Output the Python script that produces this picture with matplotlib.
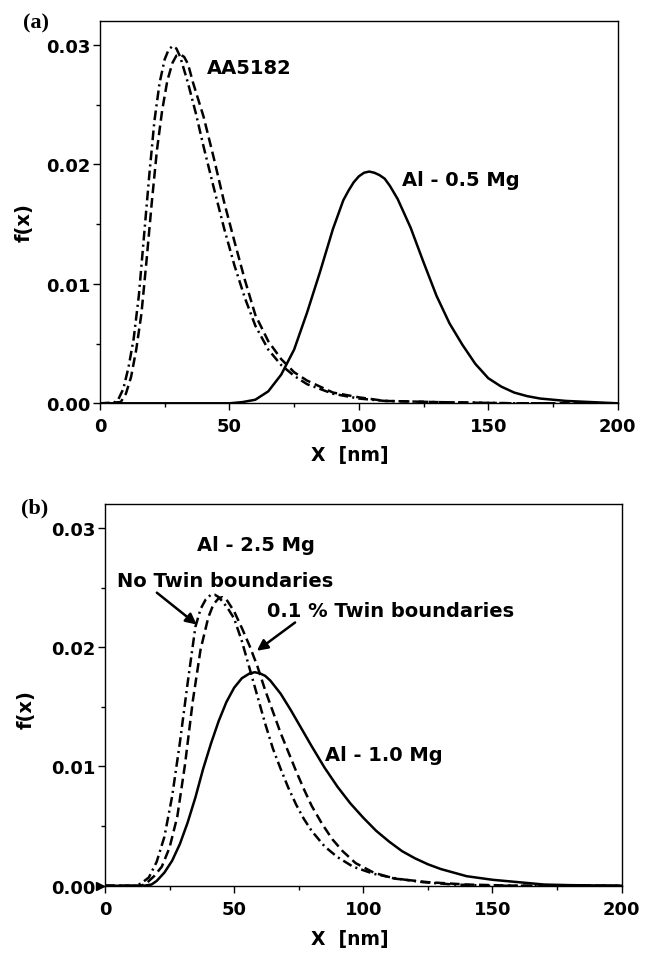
import matplotlib
matplotlib.use("Agg")
import matplotlib.pyplot as plt

plt.rcParams['font.family'] = ['DejaVu Sans']
plt.rcParams['font.weight'] = 'bold'
plt.rcParams['lines.scale_dashes'] = False

# ---- panel (a): size distributions, X in nm ----
al05_x = [0, 50, 55, 60, 65, 70, 75, 80, 85, 90, 94, 96, 98, 100, 102, 104, 106, 108, 110,
          112, 115, 120, 125, 130, 135, 140, 145, 150, 155, 160, 165, 170, 175, 180, 190, 200]
al05_y = [0, 0, 0.0001, 0.0003, 0.0010, 0.0024, 0.0045, 0.0076, 0.0110, 0.0146, 0.0170, 0.0178,
          0.0185, 0.0190, 0.0193, 0.0194, 0.0193, 0.0191, 0.0188, 0.0182, 0.0171, 0.0147, 0.0118,
          0.0090, 0.0067, 0.0049, 0.0033, 0.0021, 0.0014, 0.0009, 0.0006, 0.0004, 0.0003, 0.0002,
          0.0001, 0.0]

aa_dd_x = [0, 5, 7, 9, 11, 13, 15, 17, 19, 21, 23, 25, 26.5, 28, 29.5, 31, 34, 37, 40, 44, 48,
           52, 56, 60, 65, 70, 75, 80, 90, 100, 110, 130, 160, 200]
aa_dd_y = [0, 0, 0.0003, 0.0012, 0.0030, 0.0054, 0.0090, 0.0140, 0.0190, 0.0236, 0.0268, 0.0288,
           0.0296, 0.0299, 0.0297, 0.0290, 0.0268, 0.0243, 0.0215, 0.0180, 0.0146, 0.0115, 0.0088,
           0.0065, 0.0045, 0.0032, 0.0023, 0.0016, 0.0008, 0.0004, 0.0002, 0.0001, 0, 0]

aa_d_x = [0, 8, 10, 12, 14, 16, 18, 20, 22, 24, 26, 28, 29.5, 31, 32.5, 34, 36, 40, 44, 48, 52,
          56, 60, 65, 70, 75, 80, 90, 100, 110, 130, 160, 200]
aa_d_y = [0, 0.0001, 0.0008, 0.0022, 0.0045, 0.0075, 0.0120, 0.0168, 0.0212, 0.0245, 0.0270,
          0.0285, 0.0291, 0.0292, 0.0290, 0.0284, 0.0268, 0.0240, 0.0205, 0.0168, 0.0135, 0.0103,
          0.0074, 0.0052, 0.0037, 0.0026, 0.0019, 0.0009, 0.0005, 0.0002, 0.0001, 0, 0]

# ---- panel (b) ----
al10_x = [0, 15, 18, 20, 23, 26, 29, 32, 35, 38, 41, 44, 47, 50, 53, 56, 58, 60, 62, 64, 68, 72,
          76, 80, 85, 90, 95, 100, 105, 110, 115, 120, 125, 130, 135, 140, 150, 160, 170, 180, 200]
al10_y = [0, 0, 0.0001, 0.0004, 0.0011, 0.0021, 0.0035, 0.0053, 0.0074, 0.0098, 0.0119, 0.0138,
          0.0154, 0.0166, 0.0174, 0.0178, 0.0179, 0.0178, 0.0176, 0.0172, 0.0161, 0.0147, 0.0132,
          0.0117, 0.0099, 0.0083, 0.0069, 0.0057, 0.0046, 0.0037, 0.0029, 0.0023, 0.0018, 0.0014,
          0.0011, 0.0008, 0.0005, 0.0003, 0.0001, 0.00005, 0]

notwin_x = [0, 12, 14, 17, 20, 23, 26, 29, 32, 35, 37, 39, 41, 42.5, 44, 46, 48, 50, 53, 56, 59,
            62, 65, 68, 71, 74, 77, 80, 85, 90, 96, 104, 113, 123, 135, 150, 200]
notwin_y = [0, 0, 0.0002, 0.0007, 0.0020, 0.0041, 0.0075, 0.0120, 0.0170, 0.0217, 0.0232, 0.0240,
            0.0244, 0.0244, 0.0242, 0.0237, 0.0231, 0.0224, 0.0205, 0.0182, 0.0159, 0.0136, 0.0115,
            0.0098, 0.0082, 0.0068, 0.0056, 0.0046, 0.0033, 0.0024, 0.0016, 0.0010, 0.0006, 0.0003,
            0.0001, 0, 0]

twin_x = [0, 14, 16, 19, 22, 25, 28, 31, 34, 37, 40, 42, 44, 45.5, 47, 50, 53, 56, 59, 62, 65, 68,
          71, 74, 77, 80, 84, 88, 92, 97, 104, 112, 125, 140, 160, 200]
twin_y = [0, 0, 0.0002, 0.0008, 0.0016, 0.0032, 0.0058, 0.0102, 0.0155, 0.0198, 0.0225, 0.0236,
          0.0241, 0.0242, 0.0240, 0.0230, 0.0216, 0.0201, 0.0184, 0.0164, 0.0146, 0.0128, 0.0112,
          0.0096, 0.0081, 0.0067, 0.0052, 0.0039, 0.0029, 0.0019, 0.0011, 0.0006, 0.0003, 0.0001,
          0, 0]

xticks = [0, 50, 100, 150, 200]
yticks = [0.00, 0.01, 0.02, 0.03]
ytick_labels = ['0.00', '0.01', '0.02', '0.03']

lw = 1.8
dashed = (0, (7, 3.5))
dashdot = (0, (7, 3, 1.5, 3))

fig = plt.figure(figsize=(6.46, 9.54), dpi=100)
ax1 = fig.add_axes([0.1548, 0.5762, 0.8014, 0.4007])
ax2 = fig.add_axes([0.1625, 0.0705, 0.7998, 0.4001])


def style(ax):
    ax.set_xlim(0, 200)
    ax.set_ylim(0, 0.032)
    ax.set_xticks(xticks)
    ax.set_xticks([25, 75, 125, 175], minor=True)
    ax.set_yticks(yticks)
    ax.set_yticklabels(ytick_labels)
    ax.set_yticks([0.005, 0.015, 0.025], minor=True)
    ax.tick_params(which='both', direction='out', width=1.0, top=False, right=False)
    ax.tick_params(which='major', length=5)
    ax.tick_params(which='minor', length=3)
    ax.tick_params(axis='x', labelsize=13, pad=5)
    ax.tick_params(axis='y', labelsize=13, pad=2)
    for s in ax.spines.values():
        s.set_linewidth(1.0)
    ax.set_ylabel('f(x)', fontsize=14, fontweight='bold')
    ax.set_xlabel('X  [nm]', fontsize=13.5, fontweight='bold')


# panel (a)
ax1.plot(al05_x, al05_y, color='black', lw=lw)
ax1.plot(aa_dd_x, aa_dd_y, color='black', lw=lw, linestyle=dashdot)
ax1.plot(aa_d_x, aa_d_y, color='black', lw=lw, linestyle=dashed)
style(ax1)
ax1.yaxis.set_label_coords(-0.129, 0.476)
ax1.xaxis.set_label_coords(0.482, -0.108)
ax1.text(41.3, 0.0281, 'AA5182', fontsize=14, fontweight='bold', va='center', ha='left')
ax1.text(116.6, 0.0187, 'Al - 0.5 Mg', fontsize=14, fontweight='bold', va='center', ha='left')

# panel (b)
ax2.plot(al10_x, al10_y, color='black', lw=lw)
ax2.plot(notwin_x, notwin_y, color='black', lw=lw, linestyle=dashdot)
ax2.plot(twin_x, twin_y, color='black', lw=lw, linestyle=dashed)
ax2.plot([-2], [0], marker='>', color='black', markersize=6, clip_on=False)
style(ax2)
ax2.yaxis.set_label_coords(-0.135, 0.463)
ax2.xaxis.set_label_coords(0.473, -0.113)
ax2.text(35.5, 0.0286, 'Al - 2.5 Mg', fontsize=14, fontweight='bold', va='center', ha='left')
ax2.text(85.2, 0.0110, 'Al - 1.0 Mg', fontsize=14, fontweight='bold', va='center', ha='left')
ax2.annotate('No Twin boundaries', xy=(35.5, 0.0219), xytext=(4.5, 0.0256),
             fontsize=14, fontweight='bold', va='center', ha='left',
             arrowprops=dict(arrowstyle='-|>', color='black', lw=1.8, mutation_scale=16,
                             shrinkA=0, shrinkB=0, relpos=(0.17, 0.0)))
ax2.annotate('0.1 % Twin boundaries', xy=(58.8, 0.0197), xytext=(62.6, 0.0231),
             fontsize=14, fontweight='bold', va='center', ha='left',
             arrowprops=dict(arrowstyle='-|>', color='black', lw=1.8, mutation_scale=16,
                             shrinkA=0, shrinkB=0, relpos=(0.13, 0.0)))

fig.text(36.5 / 646, 1 - 23.5 / 954, '(a)', fontsize=16, fontweight='bold',
         family='Liberation Serif', ha='center', va='center')
fig.text(35 / 646, 1 - 508.5 / 954, '(b)', fontsize=16, fontweight='bold',
         family='Liberation Serif', ha='center', va='center')

fig.savefig('out.png', dpi=100)
